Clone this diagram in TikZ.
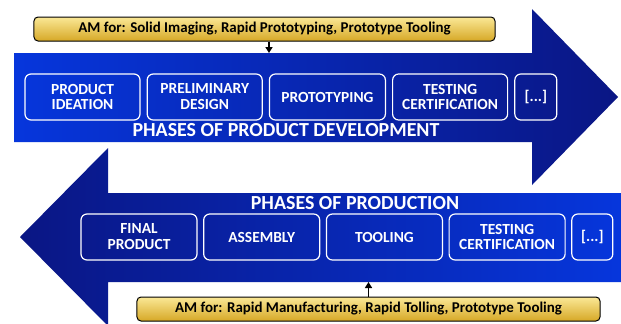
\documentclass[tikz,border=0pt]{standalone}
\usepackage{fontspec}
\setmainfont{Carlito}
\usetikzlibrary{arrows.meta,positioning}
\definecolor{navy}{RGB}{10,22,132}
\definecolor{royal}{RGB}{6,54,220}
\definecolor{goldtop}{RGB}{250,232,150}
\definecolor{goldbot}{RGB}{214,168,38}

\tikzset{
  phase/.style={draw=white, line width=1.2bp, rounded corners=6bp,
    minimum width=115bp, minimum height=46bp, inner sep=0pt,
    text=white, align=center, font=\bfseries\fontsize{15.5}{16}\selectfont},
  amtag/.style={draw=black, line width=1bp, rounded corners=4bp,
    top color=goldtop, bottom color=goldbot, minimum height=24bp,
    inner sep=0pt, font=\bfseries\fontsize{15}{16}\selectfont},
  headline/.style={text=white, inner sep=0pt,
    font=\bfseries\fontsize{20}{22}\selectfont},
  feed/.style={line width=1.5bp, -{Triangle[length=6bp,width=7bp]}}
}

\begin{document}
\begin{tikzpicture}[x=1bp, y=-1bp, node distance=6bp]
  \clip (0,0) rectangle (621,323);
  \fill[white] (0,0) rectangle (621,323);

  % development arrow, pointing right
  \shade[left color=royal, right color=navy]
    (14,53) -- (532,53) -- (532,9) -- (618,97) -- (532,185)
    -- (532,142) -- (14,142) -- cycle;
  % production arrow, pointing left
  \shade[left color=navy, right color=royal]
    (621,193) -- (108,193) -- (108,148) -- (20,237) -- (108,326)
    -- (108,282) -- (621,282) -- cycle;

  % development phases
  \node[phase] (ideation) at (82.5,97) {PRODUCT\\IDEATION};
  \node[phase, right=of ideation] (design) {PRELIMINARY\\DESIGN};
  \node[phase, right=of design, minimum width=116bp] (prototyping) {PROTOTYPING};
  \node[phase, right=of prototyping] (testdev) {TESTING\\CERTIFICATION};
  \node[phase, right=of testdev, minimum width=42bp] (moredev) {[...]};
  \node[headline] (devtitle) at (286,130) {PHASES OF PRODUCT DEVELOPMENT};

  % production phases
  \node[phase, minimum width=116bp] (final) at (139,237) {FINAL\\PRODUCT};
  \node[phase, right=5.5bp of final, minimum width=116bp] (assembly) {ASSEMBLY};
  \node[phase, right=5.5bp of assembly, minimum width=116bp] (tooling) {TOOLING};
  \node[phase, right=5.5bp of tooling, minimum width=116bp] (testprod) {TESTING\\CERTIFICATION};
  \node[phase, right=5.5bp of testprod, minimum width=41bp] (moreprod) {[...]};
  \node[headline] (prodtitle) at (355,203) {PHASES OF PRODUCTION};

  % AM notes
  \node[amtag, minimum width=461bp] (amdev) at (264.5,29)
    {AM for: Solid Imaging, Rapid Prototyping, Prototype Tooling};
  \node[amtag, minimum width=463bp] (amprod) at (368.5,309)
    {AM for: Rapid Manufacturing, Rapid Tolling, Prototype Tooling};

  \coordinate (devedge) at (269,53);
  \coordinate (prodedge) at (368.5,282);
  \draw[feed] (devedge |- amdev.south) -- (devedge);
  \draw[feed] (amprod.north) -- (prodedge);
\end{tikzpicture}
\end{document}
